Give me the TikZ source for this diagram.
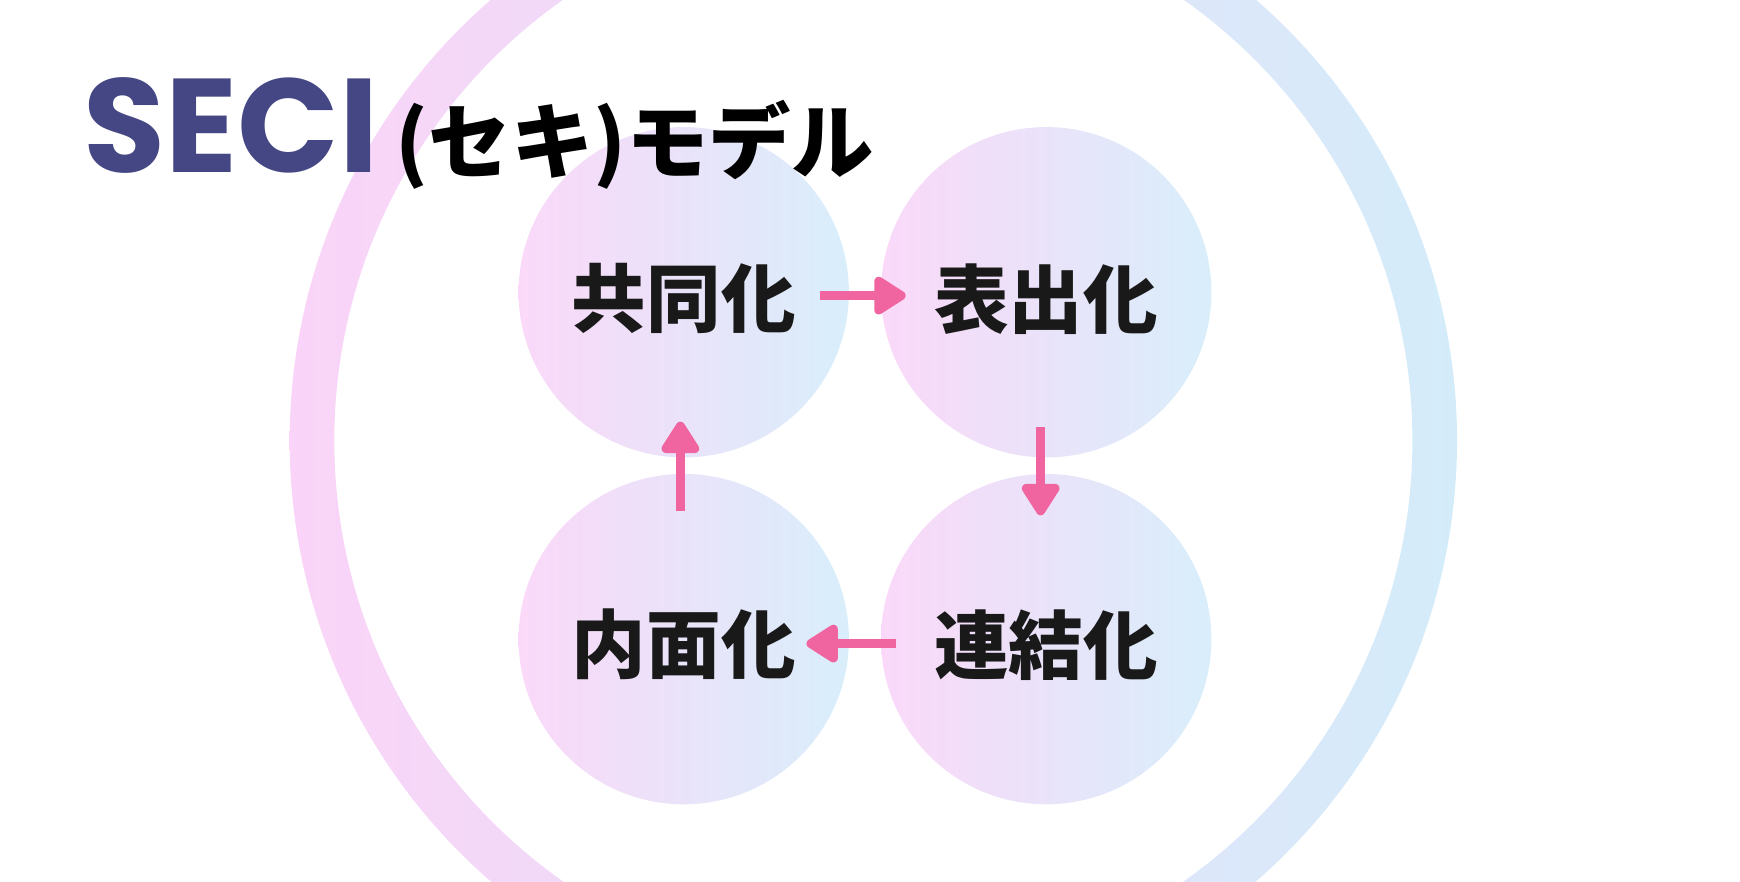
\documentclass[tikz,border=0pt]{standalone}
\usepackage{fontspec}
\newfontfamily\cjk{Noto Sans CJK JP}
\newfontfamily\titlefont{Poppins}
\usetikzlibrary{arrows.meta, positioning}
\definecolor{ringpink}{HTML}{FAD4F8}
\definecolor{ringblue}{HTML}{D4ECFA}
\definecolor{arrowpink}{HTML}{F0649F}
\definecolor{titleblue}{HTML}{454785}

\tikzset{
  phase/.style={circle, minimum size=2.96cm, inner sep=0pt, left color=ringpink!90, right color=ringblue!90},
  phaselabel/.style={font=\cjk\bfseries\fontsize{19}{19}\selectfont, text=black!90},
  seciarrow/.style={draw=arrowpink, line width=0.08cm, -{Triangle[width=0.38cm,length=0.32cm,round]}, line join=round},
}

\begin{document}
\begin{tikzpicture}[x=0.01cm, y=-0.01cm]
  \useasboundingbox (0,0) rectangle (1560,790);
  \path[even odd rule, left color=ringpink, right color=ringblue]
    (783,395) circle (5.23cm) (783,395) circle (4.83cm);

  \node[phase] (socC) at (613,262) {};
  \node[phase] (extC) at (938,262) {};
  \node[phase] (comC) at (938,573) {};
  \node[phase] (intC) at (613,573) {};

  \node[phaselabel] (soc) at (613,268) {共同化};
  \node[phaselabel] (ext) at (938,268) {表出化};
  \node[phaselabel] (com) at (938,578) {連結化};
  \node[phaselabel] (int) at (613,578) {内面化};

  \coordinate (a1s) at (735,265);  \coordinate (a1e) at (812,265);
  \coordinate (a2s) at (933,383);  \coordinate (a2e) at (933,462);
  \coordinate (a3s) at (803,577);  \coordinate (a3e) at (723,577);
  \coordinate (a4s) at (610,458);  \coordinate (a4e) at (610,378);
  \draw[seciarrow] (a1s) -- (a1e);
  \draw[seciarrow] (a2s) -- (a2e);
  \draw[seciarrow] (a3s) -- (a3e);
  \draw[seciarrow] (a4s) -- (a4e);

  \node[anchor=base west, inner sep=0pt, text=titleblue, font=\titlefont\bfseries\fontsize{34}{34}\selectfont] (seci) at (74,155) {SECI};
  \node[inner sep=0pt, font=\cjk\bfseries\fontsize{21}{21}\selectfont, right=4pt of seci.base east, anchor=base west] (model) {(セキ)モデル};
\end{tikzpicture}
\end{document}
